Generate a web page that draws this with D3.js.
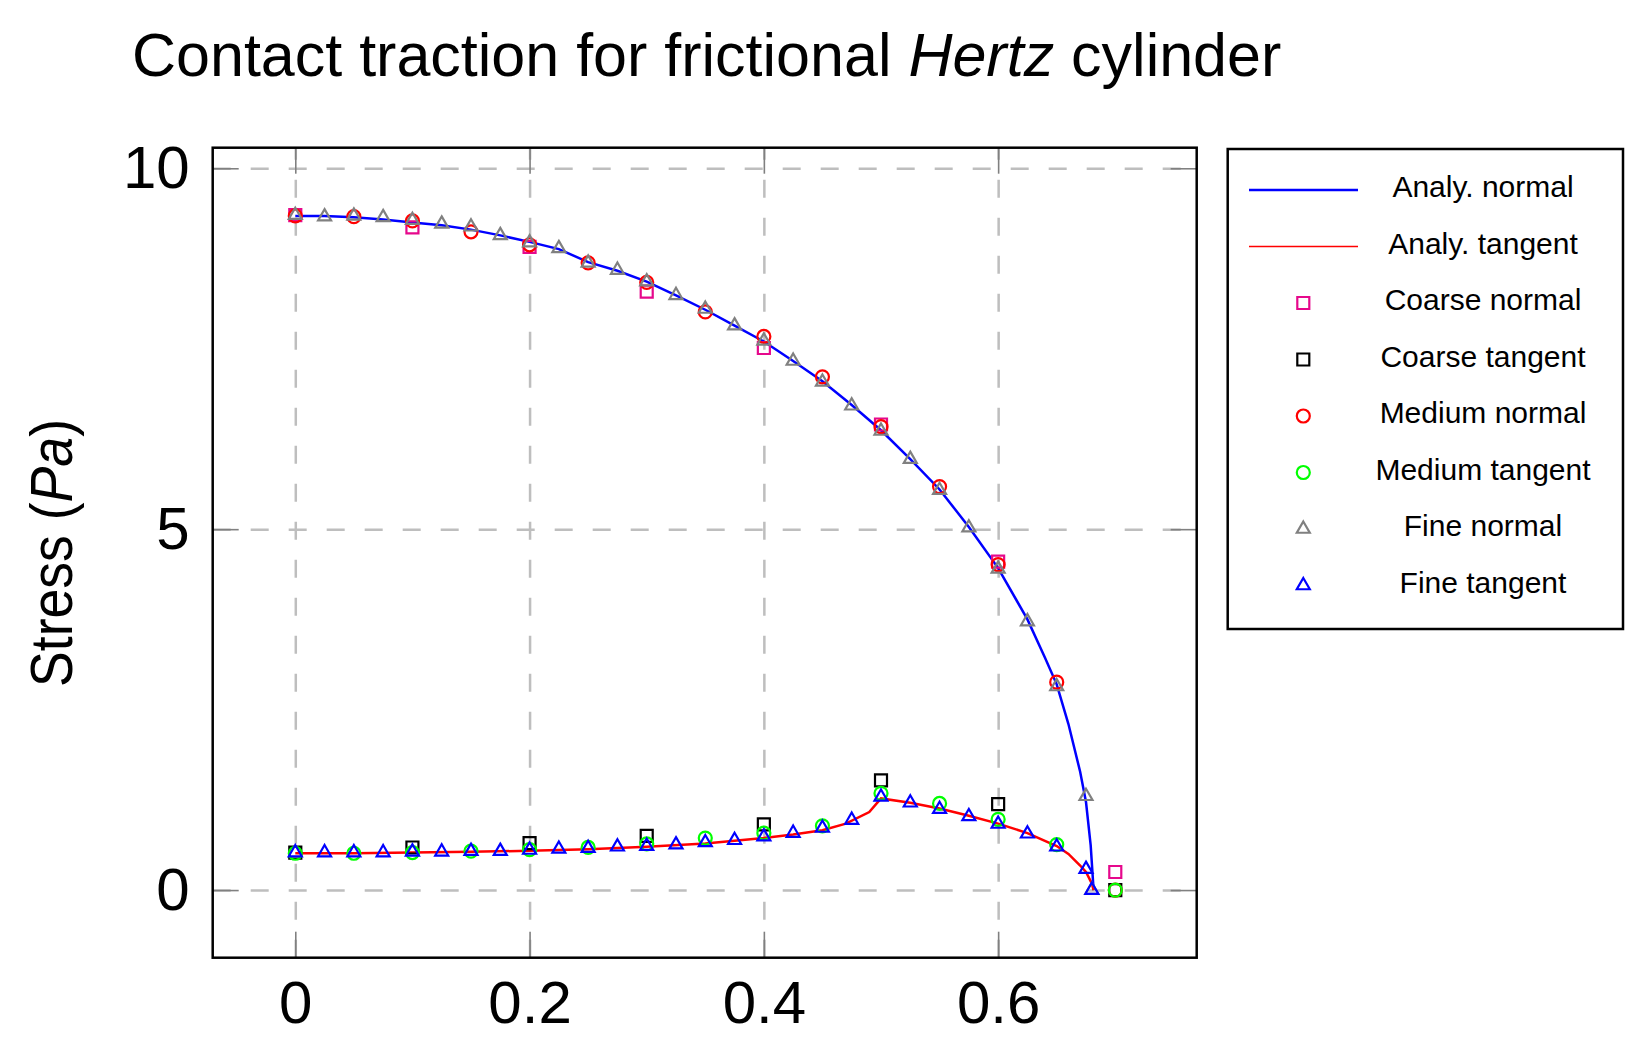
<!DOCTYPE html>
<html>
<head>
<meta charset="utf-8">
<script src="https://cdn.jsdelivr.net/npm/d3@7"></script>
<style>
body { margin: 0; background: #fff; }
text { font-family: "Liberation Sans", Arial, sans-serif; }
</style>
</head>
<body>
<svg id="chart" width="1651" height="1051"></svg>
<script>
// analytic solution
var analyNormalX = [0, 0.025, 0.05, 0.075, 0.1, 0.125, 0.15, 0.175, 0.2, 0.225, 0.25, 0.275, 0.3, 0.325, 0.35, 0.375, 0.4, 0.425, 0.45, 0.475, 0.5, 0.525, 0.55, 0.575, 0.6, 0.625, 0.64, 0.65, 0.66, 0.67, 0.675, 0.679, 0.6815];
var analyNormalY = [9.34, 9.34, 9.32, 9.29, 9.25, 9.21, 9.15, 9.07, 8.98, 8.88, 8.70, 8.58, 8.43, 8.24, 8.04, 7.82, 7.60, 7.33, 7.05, 6.72, 6.37, 5.97, 5.55, 5.03, 4.46, 3.75, 3.22, 2.85, 2.30, 1.64, 1.22, 0.62, 0];
var analyTangentX = [0, 0.05, 0.1, 0.15, 0.2, 0.25, 0.3, 0.35, 0.4, 0.425, 0.45, 0.47, 0.49, 0.5, 0.525, 0.55, 0.575, 0.6, 0.625, 0.65, 0.66, 0.67, 0.675, 0.68, 0.6815];
var analyTangentY = [0.51, 0.51, 0.52, 0.53, 0.545, 0.565, 0.60, 0.645, 0.72, 0.77, 0.83, 0.92, 1.08, 1.27, 1.21, 1.13, 1.03, 0.92, 0.79, 0.61, 0.50, 0.34, 0.25, 0.09, 0];

// coarse mesh
var coarseX = [0, 0.1, 0.2, 0.3, 0.4, 0.5, 0.6, 0.7];
var coarseNormal = [9.35, 9.18, 8.91, 8.29, 7.51, 6.45, 4.55, 0.25];
var coarseTangent = [0.52, 0.59, 0.65, 0.75, 0.91, 1.52, 1.19, 0];

// medium mesh
var mediumX = [0, 0.05, 0.1, 0.15, 0.2, 0.25, 0.3, 0.35, 0.4, 0.45, 0.5, 0.55, 0.6, 0.65, 0.7];
var mediumNormal = [9.34, 9.33, 9.27, 9.12, 8.94, 8.69, 8.42, 8.01, 7.67, 7.11, 6.42, 5.59, 4.51, 2.88, 0];
var mediumTangent = [0.51, 0.51, 0.52, 0.54, 0.56, 0.59, 0.64, 0.72, 0.79, 0.89, 1.34, 1.20, 0.98, 0.63, 0];

// fine mesh
var fineX = [0, 0.025, 0.05, 0.075, 0.1, 0.125, 0.15, 0.175, 0.2, 0.225, 0.25, 0.275, 0.3, 0.325, 0.35, 0.375, 0.4, 0.425, 0.45, 0.475, 0.5, 0.525, 0.55, 0.575, 0.6, 0.625, 0.65, 0.675, 0.68];
var fineNormal = [9.35, 9.33, 9.34, 9.32, 9.28, 9.23, 9.19, 9.07, 8.97, 8.89, 8.69, 8.59, 8.43, 8.24, 8.05, 7.82, 7.61, 7.33, 7.04, 6.71, 6.36, 5.97, 5.54, 5.02, 4.45, 3.72, 2.82, 1.30, 0];
var fineTangent = [0.52, 0.52, 0.52, 0.52, 0.53, 0.53, 0.54, 0.54, 0.555, 0.57, 0.58, 0.60, 0.61, 0.63, 0.66, 0.69, 0.74, 0.79, 0.86, 0.97, 1.29, 1.21, 1.12, 1.02, 0.915, 0.78, 0.60, 0.29, 0];

var xTicks = [0, 0.2, 0.4, 0.6];
var yTicks = [0, 5, 10];

var svg = d3.select("#chart");
var plotLeft = 212.7, plotRight = 1196.7, plotTop = 147.7, plotBottom = 957.7;
var width = plotRight - plotLeft, height = plotBottom - plotTop;

var xScale = d3.scaleLinear().domain([-0.0705, 0.7695]).range([0, width]);
var yScale = d3.scaleLinear().domain([-0.937, 10.285]).range([height, 0]);

svg.append("rect").attr("width", 1651).attr("height", 1051).attr("fill", "#fff");

var plot = svg.append("g").attr("transform", "translate(" + plotLeft + "," + plotTop + ")");

// dashed grid
var gridX = plot.append("g")
    .attr("transform", "translate(0," + height + ")")
    .call(d3.axisBottom(xScale).tickValues(xTicks).tickSize(-height).tickFormat(""));
var gridY = plot.append("g")
    .call(d3.axisLeft(yScale).tickValues(yTicks).tickSize(-width).tickFormat(""));
[gridX, gridY].forEach(function (g) {
    g.select(".domain").remove();
    g.selectAll("line")
        .attr("stroke", "#bebebe")
        .attr("stroke-width", 2.5)
        .attr("stroke-dasharray", "18,20");
});

// inward tick marks on all four sides
var tickLen = 26;
var axes = [
    plot.append("g").attr("transform", "translate(0," + height + ")")
        .call(d3.axisBottom(xScale).tickValues(xTicks).tickSize(-tickLen).tickPadding(23).tickFormat(d3.format("~g"))),
    plot.append("g")
        .call(d3.axisTop(xScale).tickValues(xTicks).tickSize(-tickLen).tickFormat("")),
    plot.append("g")
        .call(d3.axisLeft(yScale).tickValues(yTicks).tickSize(-tickLen).tickPadding(23).tickFormat(d3.format("~g"))),
    plot.append("g").attr("transform", "translate(" + width + ",0)")
        .call(d3.axisRight(yScale).tickValues(yTicks).tickSize(-tickLen).tickFormat(""))
];
axes.forEach(function (g) {
    g.select(".domain").remove();
    g.selectAll(".tick line").attr("stroke", "#808080").attr("stroke-width", 1.6);
    g.selectAll(".tick text")
        .attr("fill", "#000")
        .style("font-family", "'Liberation Sans', Arial, sans-serif")
        .style("font-size", "60px");
});

// analytic curves
var line = d3.line()
    .x(function (d) { return xScale(d[0]); })
    .y(function (d) { return yScale(d[1]); });

plot.append("path")
    .datum(d3.zip(analyNormalX, analyNormalY))
    .attr("d", line)
    .attr("fill", "none")
    .attr("stroke", "#0000ff")
    .attr("stroke-width", 2.5);

plot.append("path")
    .datum(d3.zip(analyTangentX, analyTangentY))
    .attr("d", line)
    .attr("fill", "none")
    .attr("stroke", "#ff0000")
    .attr("stroke-width", 2.5);

// marker series
var markers = [
    { name: "Coarse normal", xs: coarseX, ys: coarseNormal, color: "#e6088c", shape: d3.symbolSquare, size: 144 },
    { name: "Coarse tangent", xs: coarseX, ys: coarseTangent, color: "#000000", shape: d3.symbolSquare, size: 144 },
    { name: "Medium normal", xs: mediumX, ys: mediumNormal, color: "#ff0000", shape: d3.symbolCircle, size: 133 },
    { name: "Medium tangent", xs: mediumX, ys: mediumTangent, color: "#00ff00", shape: d3.symbolCircle, size: 133 },
    { name: "Fine normal", xs: fineX, ys: fineNormal, color: "#808080", shape: d3.symbolTriangle, size: 73 },
    { name: "Fine tangent", xs: fineX, ys: fineTangent, color: "#0000ff", shape: d3.symbolTriangle, size: 73 }
];

markers.forEach(function (s) {
    var sym = d3.symbol().type(s.shape).size(s.size);
    plot.append("g").selectAll("path")
        .data(d3.zip(s.xs, s.ys))
        .enter()
        .append("path")
        .attr("d", sym)
        .attr("transform", function (d) {
            return "translate(" + xScale(d[0]) + "," + yScale(d[1]) + ")";
        })
        .attr("fill", "none")
        .attr("stroke", s.color)
        .attr("stroke-width", 2.2);
});

// frame
plot.append("rect")
    .attr("width", width)
    .attr("height", height)
    .attr("fill", "none")
    .attr("stroke", "#000")
    .attr("stroke-width", 2.5);

// title
var title = svg.append("text")
    .attr("x", 132)
    .attr("y", 76)
    .style("font-size", "61px")
    .attr("fill", "#000");
title.append("tspan").text("Contact traction for frictional ");
title.append("tspan").style("font-style", "italic").text("Hertz");
title.append("tspan").text(" cylinder");

// y label
var ylab = svg.append("text")
    .attr("transform", "translate(72,553) rotate(-90)")
    .attr("text-anchor", "middle")
    .attr("textLength", 268)
    .attr("lengthAdjust", "spacingAndGlyphs")
    .style("font-size", "60px")
    .attr("fill", "#000");
ylab.append("tspan").text("Stress (");
ylab.append("tspan").style("font-style", "italic").text("Pa");
ylab.append("tspan").text(")");

// legend
var legend = svg.append("g");
legend.append("rect")
    .attr("x", 1227.7)
    .attr("y", 149)
    .attr("width", 1623 - 1227.7)
    .attr("height", 629 - 149)
    .attr("fill", "#fff")
    .attr("stroke", "#000")
    .attr("stroke-width", 2.5);

var legendLines = [
    { name: "Analy. normal", color: "#0000ff", width: 2.5 },
    { name: "Analy. tangent", color: "#ff0000", width: 1.5 }
];
var rowY = function (i) { return 190 + 56.5 * i; };

legendLines.forEach(function (d, i) {
    legend.append("line")
        .attr("x1", 1249).attr("x2", 1358)
        .attr("y1", rowY(i)).attr("y2", rowY(i))
        .attr("stroke", d.color)
        .attr("stroke-width", d.width);
    legend.append("text")
        .attr("x", 1483).attr("y", rowY(i) + 7)
        .attr("text-anchor", "middle")
        .style("font-size", "30px")
        .text(d.name);
});

markers.forEach(function (s, j) {
    var i = j + 2;
    legend.append("path")
        .attr("d", d3.symbol().type(s.shape).size(s.size))
        .attr("transform", "translate(1303.3," + rowY(i) + ")")
        .attr("fill", "none")
        .attr("stroke", s.color)
        .attr("stroke-width", 2.2);
    legend.append("text")
        .attr("x", 1483).attr("y", rowY(i) + 7)
        .attr("text-anchor", "middle")
        .style("font-size", "30px")
        .text(s.name);
});
</script>
</body>
</html>
